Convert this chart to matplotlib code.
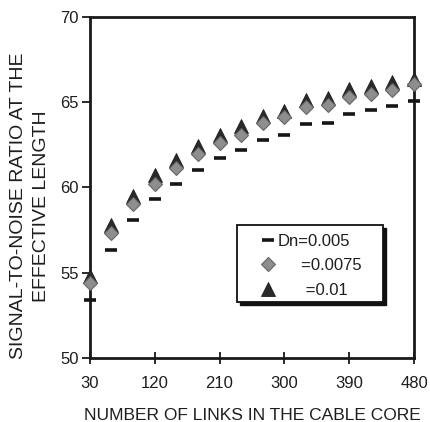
import matplotlib
matplotlib.use("Agg")
import matplotlib.pyplot as plt
from matplotlib.patches import Rectangle
from matplotlib.transforms import offset_copy

plt.rcParams["font.family"] = ["Liberation Sans", "DejaVu Sans"]

LINKS = [30, 60, 90, 120, 150, 180, 210, 240, 270, 300, 330, 360, 390, 420, 450, 480]

# signal-to-noise ratio for each index difference Dn
SNR_0005 = [53.4, 56.3, 58.1, 59.3, 60.2, 61.0, 61.7, 62.2, 62.8, 63.1,
            63.7, 63.8, 64.3, 64.55, 64.8, 65.05]
SNR_0075 = [54.4, 57.3, 59.0, 60.2, 61.15, 61.95, 62.6, 63.1, 63.75, 64.1,
            64.7, 64.85, 65.3, 65.5, 65.7, 66.05]
SNR_001 = [54.8, 57.8, 59.5, 60.75, 61.6, 62.4, 63.1, 63.6, 64.2, 64.5,
           65.1, 65.25, 65.75, 65.95, 66.2, 66.35]

LABELS = ["Dn=0.005", "     =0.0075", "      =0.01"]

X_TICKS = [30, 120, 210, 300, 390, 480]
Y_TICKS = [50, 55, 60, 65, 70]

TEXT_COLOR = "#1e1e1e"


def main():
    fig = plt.figure(figsize=(4.3, 4.22), dpi=100)
    ax = fig.add_axes([0.209, 0.152, 0.754, 0.808])

    h3, = ax.plot(LINKS, SNR_001, linestyle="none", marker="^", markersize=9.5,
                  markerfacecolor="#2a2a2a", markeredgecolor="#1e1e1e",
                  markeredgewidth=0.6, clip_on=False, zorder=3)
    h2, = ax.plot(LINKS, SNR_0075, linestyle="none", marker="D", markersize=7.3,
                  markerfacecolor="#8e8e8e", markeredgecolor="#666666",
                  markeredgewidth=0.8, clip_on=False, zorder=4)
    h1, = ax.plot(LINKS, SNR_0005, linestyle="none", marker="_", markersize=8.5,
                  markeredgewidth=2.6, color="#151515", clip_on=False, zorder=5)

    ax.set_xlim(30, 480)
    ax.set_ylim(50, 70)
    ax.set_xticks(X_TICKS)
    ax.set_yticks(Y_TICKS)

    for spine in ax.spines.values():
        spine.set_linewidth(2.0)
        spine.set_color("#1a1a1a")

    ax.tick_params(axis="x", direction="inout", length=8, width=1.3,
                   pad=9, labelsize=12, colors="#1a1a1a", labelcolor=TEXT_COLOR)
    ax.tick_params(axis="y", direction="out", length=6, width=1.3,
                   pad=2, labelsize=12, colors="#1a1a1a", labelcolor=TEXT_COLOR)

    fig.text(0.07, 0.512, "SIGNAL-TO-NOISE RATIO AT THE\nEFFECTIVE LENGTH",
             rotation=90, ha="center", va="center", multialignment="center",
             fontsize=14, color=TEXT_COLOR, linespacing=1.5)
    fig.text(0.587, 0.004, "NUMBER OF LINKS IN THE CABLE CORE",
             ha="center", va="baseline", fontsize=12.5, color=TEXT_COLOR)

    # legend box with a solid drop shadow
    box = (0.4537, 0.1642)
    box_w, box_h = 0.4506, 0.2258
    shadow_tr = offset_copy(ax.transAxes, fig=fig, x=2.2, y=-2.6, units="points")
    ax.add_patch(Rectangle(box, box_w, box_h, transform=shadow_tr,
                           facecolor="#111111", edgecolor="#111111",
                           clip_on=False, zorder=6))
    ax.add_patch(Rectangle(box, box_w, box_h, transform=ax.transAxes,
                           facecolor="white", edgecolor="#111111", linewidth=1.3,
                           clip_on=False, zorder=7))

    leg = ax.legend([h1, h2, h3], LABELS,
                    loc="upper left", bbox_to_anchor=(0.5185, 0.364),
                    borderaxespad=0, borderpad=0, fontsize=12, frameon=False,
                    handlelength=1.2, handletextpad=0.0, labelspacing=0.57)
    leg.set_zorder(8)
    for t in leg.get_texts():
        t.set_color(TEXT_COLOR)

    fig.savefig("out.png", dpi=100)


if __name__ == "__main__":
    main()
